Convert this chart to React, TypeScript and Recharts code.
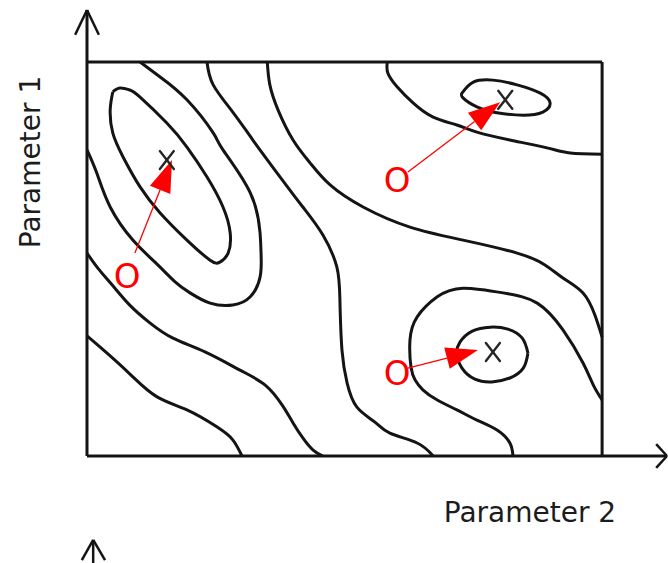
import { ComposedChart, Line, Scatter, XAxis, YAxis, ReferenceLine } from 'recharts';

type Pt = { x: number; y: number };

// contour lines of the objective over (Parameter 2, Parameter 1), box is 0..10 on both
const innerLoopNW: Pt[] = [
  { x: 0.5, y: 9.24 }, { x: 0.64, y: 9.34 }, { x: 0.83, y: 9.29 }, { x: 1.03, y: 9.11 },
  { x: 1.55, y: 8.45 }, { x: 1.94, y: 7.84 }, { x: 2.33, y: 7.08 }, { x: 2.64, y: 6.32 },
  { x: 2.78, y: 5.66 }, { x: 2.74, y: 5.15 }, { x: 2.58, y: 4.92 }, { x: 2.39, y: 4.97 },
  { x: 1.94, y: 5.48 }, { x: 1.42, y: 6.17 }, { x: 1.03, y: 6.83 }, { x: 0.7, y: 7.59 },
  { x: 0.5, y: 8.2 }, { x: 0.45, y: 8.78 }, { x: 0.5, y: 9.24 },
];

const outerLoopNW: Pt[] = [
  { x: 0, y: 7.77 }, { x: 0.19, y: 7.18 }, { x: 0.45, y: 6.32 }, { x: 0.89, y: 5.48 },
  { x: 1.32, y: 4.92 }, { x: 1.71, y: 4.42 }, { x: 2.0, y: 4.14 }, { x: 2.39, y: 3.88 },
  { x: 2.83, y: 3.83 }, { x: 3.17, y: 4.04 }, { x: 3.36, y: 4.54 }, { x: 3.38, y: 5.1 },
  { x: 3.36, y: 5.66 }, { x: 3.17, y: 6.68 }, { x: 2.64, y: 7.77 }, { x: 2.45, y: 8.2 },
  { x: 1.94, y: 9.04 }, { x: 1.42, y: 9.62 }, { x: 1.03, y: 10 },
];

const saddleWest: Pt[] = [
  { x: 2.33, y: 10 }, { x: 2.45, y: 9.42 }, { x: 2.83, y: 8.73 }, { x: 3.22, y: 8.02 },
  { x: 3.75, y: 7.08 }, { x: 4.19, y: 6.32 }, { x: 4.58, y: 5.61 }, { x: 4.85, y: 4.8 },
  { x: 4.91, y: 3.96 }, { x: 4.95, y: 2.69 }, { x: 5.05, y: 1.85 }, { x: 5.24, y: 1.24 },
  { x: 5.59, y: 0.86 }, { x: 5.88, y: 0.58 }, { x: 6.41, y: 0.33 }, { x: 6.72, y: 0 },
];

const saddleEast: Pt[] = [
  { x: 3.5, y: 10 }, { x: 3.55, y: 9.42 }, { x: 3.71, y: 8.78 }, { x: 4.0, y: 8.02 },
  { x: 4.33, y: 7.44 }, { x: 4.72, y: 6.88 }, { x: 5.36, y: 6.32 }, { x: 6.27, y: 5.81 },
  { x: 7.3, y: 5.48 }, { x: 8.35, y: 5.15 }, { x: 8.89, y: 4.85 }, { x: 9.24, y: 4.52 },
  { x: 9.63, y: 4.14 }, { x: 9.86, y: 3.58 }, { x: 10, y: 3.02 },
];

const outerLoopSE: Pt[] = [
  { x: 8.27, y: 0 }, { x: 8.21, y: 0.33 }, { x: 7.96, y: 0.66 }, { x: 7.57, y: 0.91 },
  { x: 7.18, y: 1.17 }, { x: 6.8, y: 1.42 }, { x: 6.52, y: 1.68 }, { x: 6.37, y: 1.93 },
  { x: 6.29, y: 2.26 }, { x: 6.27, y: 2.94 }, { x: 6.41, y: 3.53 }, { x: 6.8, y: 4.04 },
  { x: 7.3, y: 4.26 }, { x: 8.08, y: 4.14 }, { x: 8.74, y: 3.88 }, { x: 9.24, y: 3.2 },
  { x: 9.63, y: 2.36 }, { x: 9.83, y: 1.8 }, { x: 10, y: 1.42 },
];

const innerLoopSE: Pt[] = [
  { x: 8.56, y: 2.61 }, { x: 8.45, y: 2.99 }, { x: 8.17, y: 3.22 }, { x: 7.83, y: 3.27 },
  { x: 7.48, y: 3.17 }, { x: 7.24, y: 2.89 }, { x: 7.18, y: 2.59 }, { x: 7.28, y: 2.23 },
  { x: 7.53, y: 1.95 }, { x: 7.86, y: 1.88 }, { x: 8.21, y: 1.98 }, { x: 8.47, y: 2.23 },
  { x: 8.56, y: 2.61 },
];

const innerLoopNE: Pt[] = [
  { x: 7.28, y: 9.21 }, { x: 7.5, y: 9.49 }, { x: 7.88, y: 9.54 }, { x: 8.35, y: 9.42 },
  { x: 8.8, y: 9.21 }, { x: 8.99, y: 8.96 }, { x: 8.85, y: 8.73 }, { x: 8.47, y: 8.65 },
  { x: 7.96, y: 8.71 }, { x: 7.57, y: 8.86 }, { x: 7.3, y: 9.09 }, { x: 7.28, y: 9.21 },
];

const outerLineNE: Pt[] = [
  { x: 5.83, y: 10 }, { x: 5.84, y: 9.72 }, { x: 6.02, y: 9.37 }, { x: 6.33, y: 8.96 },
  { x: 6.72, y: 8.6 }, { x: 7.18, y: 8.4 }, { x: 7.57, y: 8.22 }, { x: 8.21, y: 8.02 },
  { x: 8.93, y: 7.82 }, { x: 9.38, y: 7.69 }, { x: 10, y: 7.66 },
];

const lowerLineSW: Pt[] = [
  { x: 0, y: 5.15 }, { x: 0.21, y: 4.77 }, { x: 0.49, y: 4.34 }, { x: 0.83, y: 3.83 },
  { x: 1.22, y: 3.38 }, { x: 1.67, y: 2.99 }, { x: 2.29, y: 2.64 }, { x: 2.97, y: 2.18 },
  { x: 3.46, y: 1.8 }, { x: 3.79, y: 1.29 }, { x: 4.0, y: 0.84 }, { x: 4.19, y: 0.46 },
  { x: 4.39, y: 0.15 }, { x: 4.58, y: 0 },
];

const cornerLineSW: Pt[] = [
  { x: 0, y: 3.05 }, { x: 0.25, y: 2.77 }, { x: 0.58, y: 2.39 }, { x: 0.89, y: 2.01 },
  { x: 1.36, y: 1.5 }, { x: 1.94, y: 1.17 }, { x: 2.52, y: 0.74 }, { x: 2.83, y: 0.41 },
  { x: 3.01, y: 0 },
];

// local optima (x) and starting points (O)
const optima: Pt[] = [
  { x: 1.55, y: 7.51 },
  { x: 8.12, y: 9.04 },
  { x: 7.88, y: 2.64 },
];

const starts: Pt[] = [
  { x: 0.78, y: 4.57 },
  { x: 6.02, y: 7.01 },
  { x: 6.02, y: 2.11 },
];

const moves: [Pt, Pt][] = [
  [{ x: 0.93, y: 5.15 }, { x: 1.65, y: 7.51 }],
  [{ x: 6.23, y: 7.21 }, { x: 8.02, y: 8.98 }],
  [{ x: 6.23, y: 2.23 }, { x: 7.59, y: 2.69 }],
];

const contours = [
  innerLoopNW, outerLoopNW, saddleWest, saddleEast, outerLoopSE,
  innerLoopSE, innerLoopNE, outerLineNE, lowerLineSW, cornerLineSW,
];

const INK = '#141414';
const FONT = '"DejaVu Sans", Verdana, sans-serif';

const CrossMark = (props: any) => {
  const { cx, cy } = props;
  return (
    <g stroke="#262626" strokeWidth={2.4} strokeLinecap="round">
      <line x1={cx - 7} y1={cy - 9} x2={cx + 7} y2={cy + 9} />
      <line x1={cx + 7} y1={cy - 9} x2={cx - 7} y2={cy + 9} />
    </g>
  );
};

const StartMark = (props: any) => {
  const { cx, cy } = props;
  return (
    <text x={cx} y={cy + 12} textAnchor="middle" fill="#ff0000" fontSize={34} fontFamily={FONT}>
      O
    </text>
  );
};

const MoveArrow = (props: any) => {
  const { x1, y1, x2, y2 } = props;
  const dx = x2 - x1;
  const dy = y2 - y1;
  const len = Math.sqrt(dx * dx + dy * dy) || 1;
  const ux = dx / len;
  const uy = dy / len;
  const head = 32;
  const half = 11;
  const bx = x2 - ux * head;
  const by = y2 - uy * head;
  return (
    <g>
      <line x1={x1} y1={y1} x2={bx} y2={by} stroke="#ff0000" strokeWidth={1.3} />
      <polygon
        points={`${x2},${y2} ${bx - uy * half},${by + ux * half} ${bx + uy * half},${by - ux * half}`}
        fill="#ff0000"
      />
    </g>
  );
};

const XTitle = (props: any) => {
  const vb = props.viewBox || { x: 87, y: 456 };
  return (
    <text x={vb.x + 443} y={vb.y + 66} textAnchor="middle" fontSize={28} fill="#1c1c1c" fontFamily={FONT}>
      Parameter 2
    </text>
  );
};

const YTitle = (props: any) => {
  const vb = props.viewBox || { x: 27, y: 10 };
  const x = vb.x + 13;
  const y = vb.y + 152;
  return (
    <text x={x} y={y} textAnchor="middle" fontSize={28} fill="#1c1c1c" fontFamily={FONT} transform={`rotate(-90 ${x} ${y})`}>
      Parameter 1
    </text>
  );
};

const edge = { stroke: INK, strokeWidth: 3 };

export default function App() {
  return (
    <div style={{ position: 'absolute', left: 0, top: 0, background: '#fff' }}>
      <ComposedChart width={668} height={563} margin={{ top: 10, right: 1, bottom: 77, left: 27 }}>
        <XAxis
          type="number"
          dataKey="x"
          domain={[0, 11.26]}
          allowDataOverflow
          tick={false}
          tickLine={false}
          height={30}
          axisLine={edge}
          label={{ content: XTitle }}
        />
        <YAxis
          type="number"
          dataKey="y"
          domain={[0, 11.32]}
          allowDataOverflow
          tick={false}
          tickLine={false}
          width={60}
          axisLine={edge}
          label={{ content: YTitle }}
        />

        {/* frame of the explored region */}
        <ReferenceLine segment={[{ x: 0, y: 10 }, { x: 10, y: 10 }]} {...edge} />
        <ReferenceLine segment={[{ x: 10, y: 10 }, { x: 10, y: 0 }]} {...edge} />

        {/* open arrow heads on the axes */}
        <ReferenceLine segment={[{ x: -0.23, y: 10.69 }, { x: 0, y: 11.32 }]} ifOverflow="visible" stroke={INK} strokeWidth={2.5} />
        <ReferenceLine segment={[{ x: 0.23, y: 10.69 }, { x: 0, y: 11.32 }]} ifOverflow="visible" stroke={INK} strokeWidth={2.5} />
        <ReferenceLine segment={[{ x: 11.05, y: 0.3 }, { x: 11.26, y: 0 }]} ifOverflow="visible" stroke={INK} strokeWidth={2.5} />
        <ReferenceLine segment={[{ x: 11.05, y: -0.3 }, { x: 11.26, y: 0 }]} ifOverflow="visible" stroke={INK} strokeWidth={2.5} />

        {/* top of the next panel's axis */}
        <ReferenceLine segment={[{ x: 0.12, y: -2.13 }, { x: 0.12, y: -2.75 }]} ifOverflow="visible" stroke={INK} strokeWidth={2.5} />
        <ReferenceLine segment={[{ x: -0.1, y: -2.64 }, { x: 0.12, y: -2.13 }]} ifOverflow="visible" stroke={INK} strokeWidth={2.5} />
        <ReferenceLine segment={[{ x: 0.35, y: -2.64 }, { x: 0.12, y: -2.13 }]} ifOverflow="visible" stroke={INK} strokeWidth={2.5} />

        {contours.map((c, i) => (
          <Line
            key={i}
            data={c}
            dataKey="y"
            type="natural"
            dot={false}
            activeDot={false}
            stroke={INK}
            strokeWidth={3}
            isAnimationActive={false}
          />
        ))}

        {moves.map((m, i) => (
          <ReferenceLine key={`m${i}`} segment={m} ifOverflow="visible" shape={MoveArrow} />
        ))}

        <Scatter data={optima} dataKey="y" shape={CrossMark} isAnimationActive={false} />
        <Scatter data={starts} dataKey="y" shape={StartMark} isAnimationActive={false} />
      </ComposedChart>
    </div>
  );
}
